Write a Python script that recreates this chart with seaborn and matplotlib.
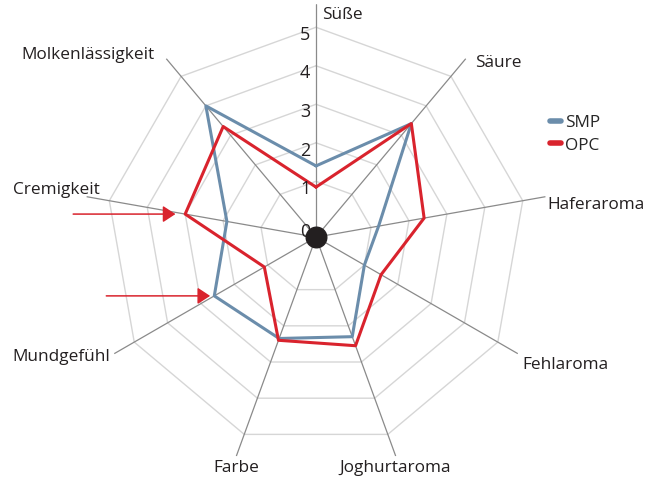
import numpy as np
import pandas as pd
import matplotlib.pyplot as plt
import seaborn as sns

# Sensory profile: SMP vs OPC yoghurt
categories = ["Süße", "Säure", "Haferaroma", "Fehlaroma", "Joghurtaroma",
              "Farbe", "Mundgefühl", "Cremigkeit", "Molkenlässigkeit"]
smp = [1.4, 3.4, 1.2, 1.0, 2.3, 2.35, 2.6, 1.9, 4.0]
opc = [0.85, 3.4, 2.4, 1.5, 2.55, 2.4, 1.1, 3.0, 3.3]
series = ["SMP", "OPC"]
ring_levels = [1, 2, 3, 4, 5]
tick_labels = ["0", "1", "2", "3", "4", "5"]

colors = {"SMP": "#6b8dab", "OPC": "#d9232d"}
rmin, rmax = -0.45, 5.6

sns.set_style("white")
plt.rcParams["font.family"] = ["Open Sans", "DejaVu Sans"]

n = len(categories)
angles = np.deg2rad(np.arange(n) * 360 / n)
closed = np.append(angles, angles[0] + 2 * np.pi)

rows = []
for name, vals in zip(series, [smp, opc]):
    for a, v in zip(closed, vals + [vals[0]]):
        rows.append({"theta": a, "wert": v, "Probe": name})
df = pd.DataFrame(rows)

fig = plt.figure(figsize=(6.46, 4.83), dpi=100)
ax = fig.add_axes([0.1285, 0.0266, 0.7214, 0.9648], projection="polar")
ax.set_theta_zero_location("N")
ax.set_theta_direction(-1)
ax.set_ylim(rmin, rmax)

# grid rings and spokes
for k in ring_levels:
    ax.plot(closed, [k] * len(closed), color="#d6d6d6", lw=1, zorder=1)
for a in angles:
    ax.plot([a, a], [rmin, rmax], color="#8a8a8a", lw=0.9, zorder=2)

sns.lineplot(data=df, x="theta", y="wert", hue="Probe", palette=colors,
             sort=False, estimator=None, lw=2.2, ax=ax, zorder=3)

ax.scatter([0], [rmin], s=220, color="#231f20", zorder=5)

ax.set_xticks([])
ax.set_yticks([])
ax.set_xlabel("")
ax.set_ylabel("")
ax.grid(False)
ax.spines["polar"].set_visible(False)

# radial tick labels on the top axis
tick_r = [-0.32, 0.8, 1.8, 2.8, 3.8, 4.8]
for r, t in zip(tick_r, tick_labels):
    ax.annotate(t, xy=(0, r), xytext=(-4, 0), textcoords="offset points",
                ha="right", va="center", fontsize=13, color="#231f20")

# category labels
label_pos = [(322, 15, "left"), (475, 63, "left"), (547, 205, "left"),
             (522, 365, "left"), (395, 468, "center"), (236, 468, "center"),
             (110, 357, "right"), (100, 190, "right"), (155, 55, "right")]
for (px, py, ha), lab in zip(label_pos, categories):
    fig.text(px / 646, 1 - py / 483, lab, ha=ha, va="center",
             fontsize=12.4, color="#231f20")

# arrows pointing at Cremigkeit (OPC) and Mundgefühl (SMP)
def arrow_props(shrink):
    return dict(arrowstyle="-|>,head_length=0.38,head_width=0.25",
                color="#d9232d", lw=1.1, mutation_scale=20,
                shrinkA=0, shrinkB=shrink)

ax.annotate("", xy=(angles[7], opc[7]), xytext=(-112, 0),
            textcoords="offset pixels", arrowprops=arrow_props(7))
ax.annotate("", xy=(angles[6], smp[6]), xytext=(-108, 0),
            textcoords="offset pixels", arrowprops=arrow_props(3))

handles, labels = ax.get_legend_handles_labels()
ax.get_legend().remove()
leg = fig.legend(handles, labels, loc="upper left",
                 bbox_to_anchor=(534 / 646, 1 - 99 / 483), frameon=False,
                 handlelength=0.65, handletextpad=0.25, labelspacing=0.4,
                 fontsize=12.4)
for line in leg.get_lines():
    line.set_linewidth(4)

fig.savefig("out.png", dpi=100)
